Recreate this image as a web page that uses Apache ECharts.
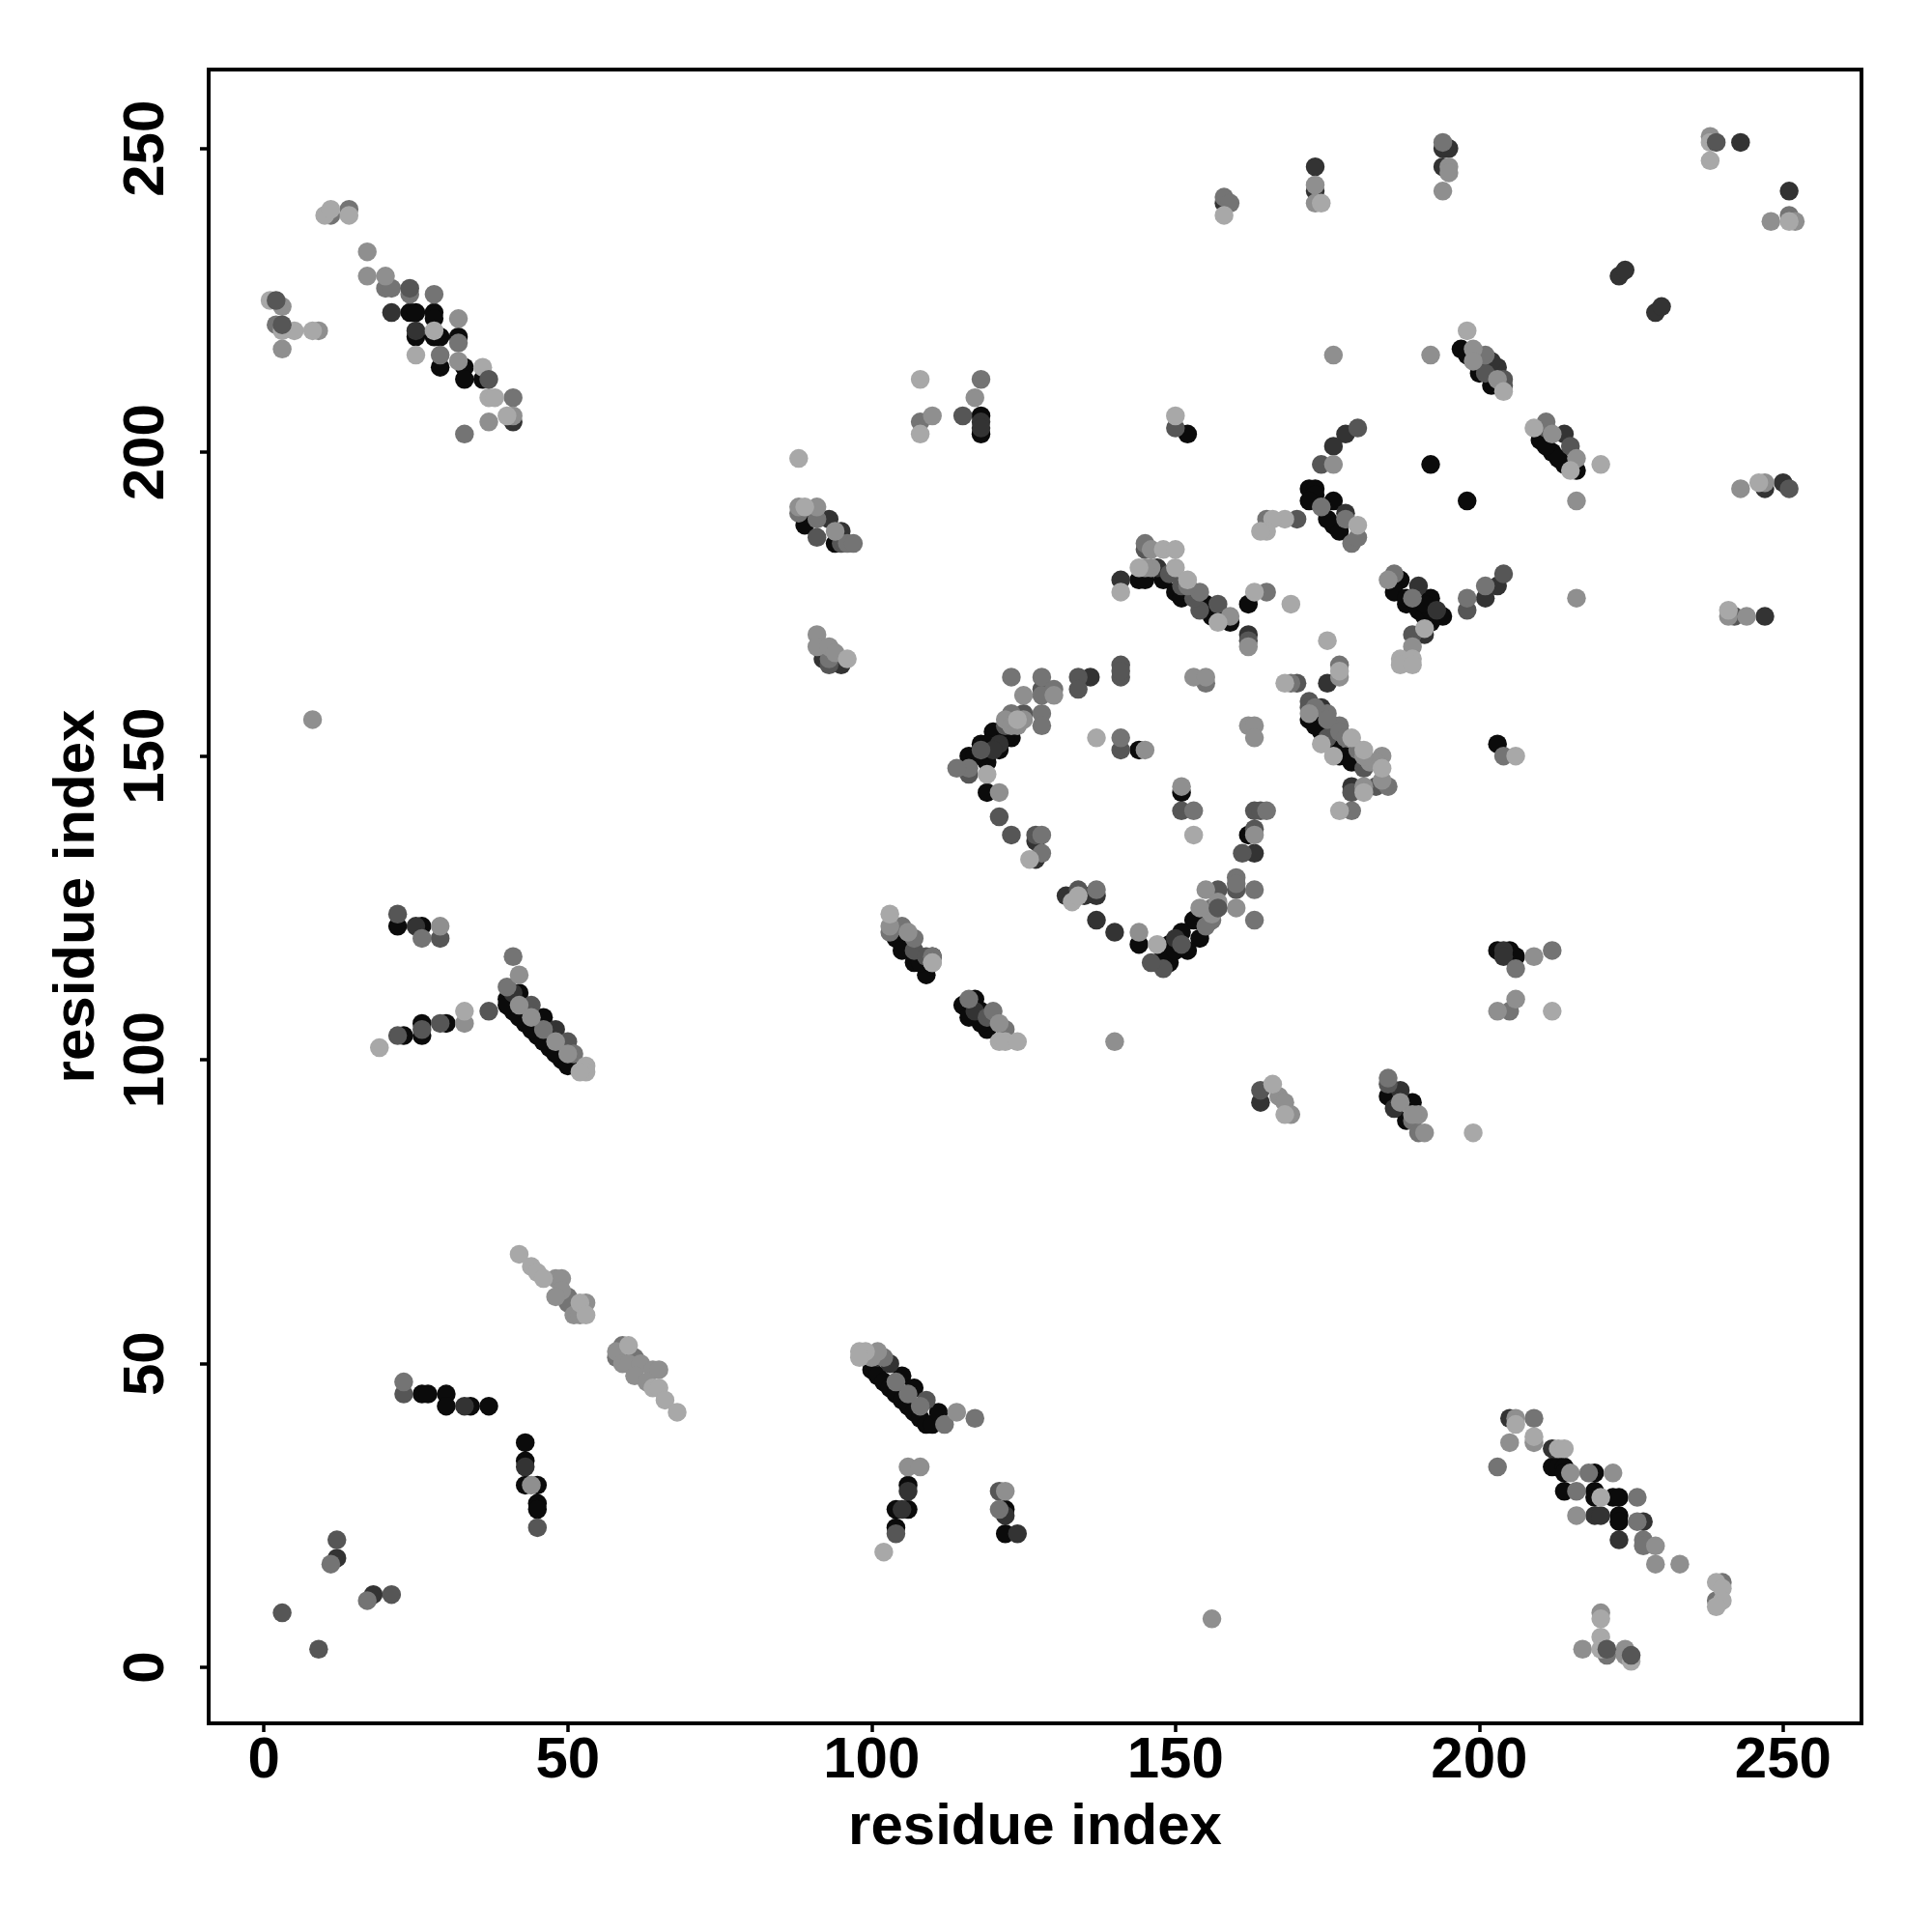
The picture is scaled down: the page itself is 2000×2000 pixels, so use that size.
<!DOCTYPE html>
<html><head><meta charset="utf-8">
<style>html,body{margin:0;padding:0;background:#fff}#c{width:2000px;height:2000px}</style>
<script src="https://cdn.jsdelivr.net/npm/echarts@6/dist/echarts.min.js"></script>
</head><body><div id="c"></div>
<script>
const tickValues=[0,50,100,150,200,250];
const axisTitle="residue index";
const shadeBlack=[[26,45],[27,45],[30,45],[30,43],[34,43],[37,43],[43,37],[43,34],[43,30],[45,30],[45,27],[45,26],
[100,49],[101,48],[102,47],[103,46],[104,45],[105,44],[106,43],[107,42],[108,41],[109,40],[110,40],[105,48],[107,46],[111,42],
[106,30],[104,26],[106,26],[104,23],[122,26],[122,22],
[212,33],[213,33],[214,33],[214,32],[214,29],[219,32],[219,29],[219,28],[222,28],[223,28],[223,25],[223,24],
[22,122],[26,122],[42,111],[40,110],[41,108],[40,109],[43,106],[45,104],[47,102],[49,100],[42,107],[44,105],[46,103],[48,101],[50,99],[46,107],[30,106],[26,106],[26,104],[23,104],
[104,120],[105,119],[105,118],[107,116],[109,114],[110,117],[108,116],[117,110],[115,109],[116,107],[119,105],[118,108],[118,106],
[24,223],[25,223],[28,223],[28,222],[25,219],[28,219],[29,219],[32,219],[29,214],[33,214],[33,212],[36,212],
[89,189],[89,188],[94,185],[118,206],[118,203],[152,203],[192,198],[198,192],
[197,217],[198,216],[200,213],[202,211],[172,194],[173,194],[176,192],[173,193],[172,192],[176,188],[177,187],[175,189],
[144,179],[145,179],[148,179],[150,177],[151,176],[156,173],[155,175],[162,175],[152,177],[154,175],[158,173],[159,172],
[187,179],[186,177],[188,175],[192,176],[194,173],[192,172],[188,176],[190,174],[191,173],[192,174],[191,175],
[210,202],[212,200],[216,197],[214,198],[213,199],[211,201],
[123,153],[120,154],[121,151],[118,152],[119,149],[116,149],[116,150],[119,144],[144,151],[151,144],[117,150],[119,152],[122,153],
[172,156],[174,154],[176,152],[177,150],[180,149],[162,137],[173,155],[175,153],[178,150],[179,149],
[153,123],[151,121],[154,120],[152,118],[149,119],[149,116],[148,117],[144,119],[150,118],
[203,152],[203,118],[205,118],[206,117],[185,94],[189,93],[188,90]];
const shadeDark=[[18,12],[12,18],[33,43],[43,33],[105,26],[106,29],[122,25],[124,22],[101,51],[103,50],
[205,41],[212,36],[223,21],[227,24],[219,25],[220,25],[25,122],[41,111],[48,105],[117,108],
[21,223],[25,220],[41,205],[93,189],[95,187],[118,205],[118,204],[158,241],[173,247],[173,243],[194,250],[195,250],[194,247],
[243,251],[251,243],[223,229],[224,230],[229,223],[230,224],[203,214],[202,215],[178,203],[176,201],[178,190],[141,179],[147,181],
[162,170],[190,178],[193,174],[191,170],[201,176],[203,178],[214,203],[247,194],[250,195],[247,173],
[136,163],[175,162],[174,158],[179,145],[163,134],[140,121],[137,123],[137,127],[132,127],[135,127],[127,136],[127,133],[204,118],[204,117],[187,95],[186,92],[164,93],[92,166],[95,165],
[121,152],[150,120],[120,151]];
const shadeMid=[[3,9],[9,3],[12,21],[21,12],[23,45],[45,23],[51,59],[109,44],[104,22],[121,29],
[22,124],[29,120],[44,109],[50,103],[37,108],[29,106],[26,105],[22,104],[107,118],[109,117],[119,107],
[91,186],[95,185],[93,165],[115,206],[150,204],[174,198],[204,212],[204,211],[201,213],
[145,184],[170,189],[154,174],[157,175],[153,176],[149,180],[151,178],[162,169],[189,170],[198,174],[204,180],[211,204],[215,201],[242,173],
[134,163],[134,161],[141,165],[141,163],[141,164],[125,157],[128,161],[172,159],[175,153],[181,148],[183,145],[179,144],[163,141],[164,141],[170,162],[172,158],[176,155],
[116,147],[121,140],[123,137],[127,137],[141,151],[151,141],[161,134],[163,138],[160,128],[157,128],[148,115],[146,116],[134,128],[185,96],[164,95],[122,155],[118,151],[151,119]];
const shadeLow=[[11,17],[17,11],[23,47],[50,61],[50,60],[58,51],[59,53],[61,51],[102,51],[112,40],[117,41],[121,26],[104,47],[106,45],[108,43],
[209,41],[203,33],[216,29],[218,32],[226,28],[226,24],[227,21],[227,20],[240,14],[239,11],[221,2],
[41,117],[40,112],[26,120],[46,105],[51,101],[103,121],[105,122],[107,120],[110,117],[116,110],[120,108],[122,105],
[2,221],[11,239],[14,240],[20,227],[21,227],[24,226],[28,226],[29,216],[32,218],[41,209],[33,203],
[88,190],[91,189],[96,185],[97,185],[93,166],[108,205],[118,212],[158,242],[159,241],[194,251],[251,239],
[201,216],[178,189],[179,185],[180,186],[174,191],[165,189],[145,185],[154,177],[152,178],[165,177],[177,165],[186,180],[189,176],[198,176],[201,178],[211,205],
[123,163],[128,163],[128,160],[130,161],[155,162],[123,157],[128,157],[128,155],[116,148],[114,148],[128,137],[128,134],[141,153],[153,141],[165,141],[160,130],[160,129],[163,128],[163,123],[156,123],[137,128],[175,157],[177,155],[179,141],[185,145],[204,150],[212,118],[206,115],[205,108],[189,90],[190,88],[185,97],
[169,162],[173,158],[175,156],[177,154],[178,153],[180,151],[156,125],[155,122]];
const shadePale=[[8,156],[156,8],[44,30],[48,64],[49,64],[49,62],[48,61],[53,60],[51,58],[52,58],[58,52],[59,50],[60,50],[62,50],[61,48],[64,49],[65,49],[63,47],[100,51],[101,52],[114,42],[106,33],[108,33],[122,29],
[206,41],[205,37],[209,37],[215,32],[222,32],[216,25],[229,20],[229,17],[233,17],[220,9],[217,3],[224,3],[224,2],
[29,122],[42,114],[33,106],[42,109],[44,107],[48,103],[50,101],[103,122],[106,121],[110,116],[121,106],
[3,224],[3,217],[9,220],[17,233],[17,229],[20,229],[32,222],[32,215],[37,205],[41,206],
[88,191],[91,191],[94,187],[91,170],[91,168],[93,168],[94,167],[110,206],[117,209],[173,244],[173,241],[195,247],[195,246],[194,243],[238,252],[248,238],[252,238],
[216,192],[176,216],[192,216],[199,217],[199,215],[203,212],[176,198],[146,184],[146,181],[145,181],[159,173],[216,176],[162,168],
[212,203],[216,199],[243,194],[247,195],[241,173],[244,173],[185,179],[189,168],[125,160],[130,160],[122,156],[123,155],[121,144],[153,163],[155,163],[162,155],[163,155],[163,153],[177,163],[172,157],
[151,145],[145,151],[163,137],[144,121],[155,128],[160,125],[156,124],[154,125],[184,150],[184,146],[181,145],[209,117],[206,110],[203,108],[140,103],[167,94],[168,93],[169,91],[191,88],[190,91],[187,93],[189,91],
[124,155],[125,156],[157,126],[182,149],[183,149],[181,150]];
const shadeLight=[[42,68],[44,66],[45,65],[46,64],[52,60],[53,58],[60,53],[64,46],[65,46],[66,44],[68,42],[98,52],[99,52],[98,51],[102,19],
[206,40],[209,38],[213,36],[214,36],[220,28],[239,14],[240,13],[240,11],[239,10],[220,8],[220,5],[220,3],[225,1],
[19,102],[33,108],[53,99],[53,98],[52,98],[103,124],[121,103],[122,103],[124,103],[110,116],
[1,225],[3,220],[5,220],[8,220],[10,239],[11,240],[14,239],[25,216],[28,220],[36,214],[37,209],[38,209],[40,206],
[88,199],[89,191],[96,166],[108,212],[108,203],[158,239],[174,241],[238,251],[238,248],[251,238],
[198,220],[204,210],[150,206],[141,177],[148,184],[150,184],[144,181],[150,181],[152,179],[157,172],[163,177],[169,175],[175,169],
[168,189],[166,189],[165,187],[164,187],[180,188],[187,166],[189,166],[187,165],[189,165],[191,171],[220,198],[246,195],[209,204],[215,197],
[124,156],[119,147],[137,153],[153,137],[126,133],[133,126],[134,127],[147,119],[168,162],[177,164],[179,153],[181,151],[184,148],[176,150],[174,152],[181,144],[177,141],[206,150],[212,108],[166,96],[168,91],[199,88],[241,174]];
const topMid=[[221,3],[225,2],[3,221],[2,225],[37,212],[180,204],[251,194],[24,227],[239,251],[157,125]];

const shades=[
 ["#0b0b0b",shadeBlack],["#333333",shadeDark],["#565656",shadeMid],
 ["#747474",shadeLow],["#8f8f8f",shadePale],["#a8a8a8",shadeLight],["#565656",topMid]];
const axisBase={type:'value',name:axisTitle,nameLocation:'middle',
 nameTextStyle:{fontFamily:'Liberation Sans',fontWeight:'bold',fontSize:60,color:'#000'},
 axisLine:{show:true,onZero:false,lineStyle:{color:'#000',width:4}},splitLine:{show:false},
 axisTick:{show:true,inside:false,length:9,lineStyle:{color:'#000',width:3.5},customValues:tickValues},
 axisLabel:{show:true,fontFamily:'Liberation Sans',fontWeight:'bold',fontSize:60,color:'#000',customValues:tickValues}};
const chart=echarts.init(document.getElementById('c'),null,{renderer:'canvas'});
chart.setOption({animation:false,backgroundColor:'#fff',
 grid:{left:216,top:72,width:1711,height:1712,show:true,borderColor:'#000',borderWidth:4,backgroundColor:'transparent',containLabel:false},
 xAxis:Object.assign({},axisBase,{min:-9.1,max:262.9,nameGap:78,axisLabel:Object.assign({},axisBase.axisLabel,{margin:9})}),
 yAxis:Object.assign({},axisBase,{min:-9.2,max:263,nameGap:106,axisLabel:Object.assign({},axisBase.axisLabel,{rotate:90,margin:34})}),
 series:shades.map(([color,data],i)=>({type:'scatter',data:data,symbol:'circle',symbolSize:19.5,z:2+i,
  itemStyle:{color:color,opacity:1},silent:true}))
});
</script></body></html>
